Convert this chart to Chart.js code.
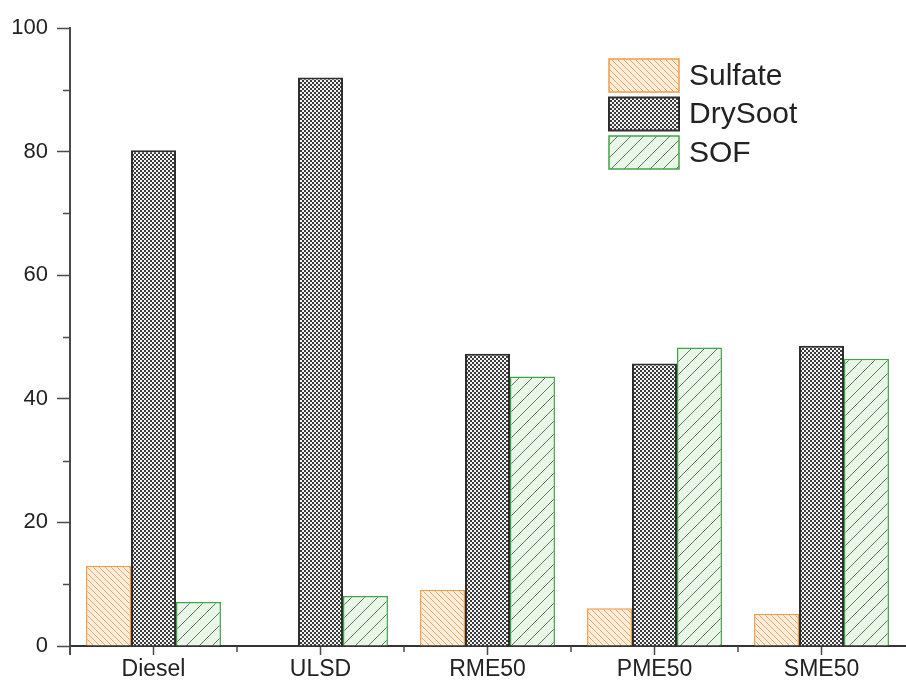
<!DOCTYPE html>
<html>
<head>
<meta charset="utf-8">
<script src="https://cdn.jsdelivr.net/npm/chart.js@4/dist/chart.umd.min.js"></script>
<style>
  html, body { margin: 0; padding: 0; background: #ffffff; }
  #wrap { width: 906px; height: 689px; position: relative; }
</style>
</head>
<body>
<div id="wrap"><canvas id="chart" width="906" height="689"></canvas></div>
<script>
// Particulate matter composition by fuel (%)
const categories = ['Diesel', 'ULSD', 'RME50', 'PME50', 'SME50'];
const seriesNames = ['Sulfate', 'DrySoot', 'SOF'];
const sulfate = [13.0, null, 9.1, 6.1, 5.2];
const drySoot = [80.2, 92.0, 47.3, 45.7, 48.6];
const sof = [7.1, 8.1, 43.6, 48.3, 46.5];
const yTicks = [0, 20, 40, 60, 80, 100];

const FONT = "'Liberation Sans', Arial, sans-serif";
const TEXT = '#222222';
const AXIS = '#4a4a4a';

// Fill patterns
function tile(w, h, paint) {
  const c = document.createElement('canvas');
  c.width = w; c.height = h;
  const g = c.getContext('2d');
  paint(g, w, h);
  return document.createElement('canvas').getContext('2d').createPattern(c, 'repeat');
}

const hatchBack = tile(6, 6, (g, w, h) => {
  g.fillStyle = '#fdeedd';
  g.fillRect(0, 0, w, h);
  g.strokeStyle = '#f3a45a';
  g.lineWidth = 1;
  g.beginPath();
  g.moveTo(-1, -1); g.lineTo(w + 1, h + 1);
  g.moveTo(-1, h - 1); g.lineTo(1, h + 1);
  g.moveTo(w - 1, -1); g.lineTo(w + 1, 1);
  g.stroke();
});

const checker = tile(4, 4, (g, w, h) => {
  g.fillStyle = '#3c3c3c';
  g.fillRect(0, 0, w, h);
  g.fillStyle = '#f4f4f4';
  g.fillRect(0, 0, 2, 2);
  g.fillRect(2, 2, 2, 2);
});

const hatchFwd = tile(13, 13, (g, w, h) => {
  g.fillStyle = '#eaf7e8';
  g.fillRect(0, 0, w, h);
  g.strokeStyle = '#55805a';
  g.lineWidth = 1;
  g.beginPath();
  g.moveTo(-1, h + 1); g.lineTo(w + 1, -1);
  g.stroke();
});

// Minor ticks, axis stub and the legend block
const decor = {
  id: 'decor',
  afterDraw(chart) {
    const ctx = chart.ctx;
    const x = chart.scales.x, y = chart.scales.y;
    const area = chart.chartArea;
    ctx.save();
    ctx.strokeStyle = AXIS;
    ctx.lineWidth = 1.5;
    // y minor ticks
    for (let v = 10; v < 100; v += 20) {
      const py = Math.round(y.getPixelForValue(v)) + 0.5;
      ctx.beginPath();
      ctx.moveTo(area.left - 7, py);
      ctx.lineTo(area.left, py);
      ctx.stroke();
    }
    // x minor ticks between categories
    for (let i = 0; i < categories.length - 1; i++) {
      const px = (x.getPixelForValue(i) + x.getPixelForValue(i + 1)) / 2;
      ctx.beginPath();
      ctx.moveTo(px, area.bottom);
      ctx.lineTo(px, area.bottom + 6);
      ctx.stroke();
    }
    // y axis runs slightly below the baseline
    ctx.lineWidth = 2;
    ctx.beginPath();
    ctx.moveTo(area.left, area.bottom);
    ctx.lineTo(area.left, area.bottom + 9);
    ctx.stroke();

    // legend
    const lx = 609, ly = 59, bw = 70, bh = 33, step = 38.5;
    ctx.font = '30px ' + FONT;
    ctx.textBaseline = 'middle';
    ctx.textAlign = 'left';
    chart.data.datasets.forEach((ds, i) => {
      const top = ly + i * step;
      ctx.fillStyle = ds.backgroundColor;
      ctx.fillRect(lx, top, bw, bh);
      ctx.strokeStyle = ds.borderColor;
      ctx.lineWidth = ds.borderWidth;
      ctx.strokeRect(lx, top, bw, bh);
      ctx.fillStyle = TEXT;
      ctx.fillText(ds.label, lx + bw + 10, top + bh / 2 + 1);
    });
    ctx.restore();
  }
};

new Chart(document.getElementById('chart'), {
  type: 'bar',
  data: {
    labels: categories,
    datasets: [
      { label: seriesNames[0], data: sulfate, backgroundColor: hatchBack, borderColor: '#f29c48', borderWidth: 1.5 },
      { label: seriesNames[1], data: drySoot, backgroundColor: checker, borderColor: '#2e2e2e', borderWidth: 2 },
      { label: seriesNames[2], data: sof, backgroundColor: hatchFwd, borderColor: '#3fa447', borderWidth: 1.5 }
    ]
  },
  options: {
    responsive: false,
    animation: false,
    devicePixelRatio: 1,
    layout: { padding: { top: 28, right: 1, left: 0, bottom: 0 } },
    datasets: { bar: { categoryPercentage: 0.808, barPercentage: 1.0 } },
    plugins: { legend: { display: false }, tooltip: { enabled: false } },
    scales: {
      x: {
        offset: true,
        grid: { offset: false, drawOnChartArea: false, drawTicks: true, tickLength: 9, tickColor: AXIS, tickWidth: 1.5 },
        border: { display: true, color: '#333333', width: 2 },
        ticks: { color: TEXT, font: { family: FONT, size: 23 }, padding: 1, maxRotation: 0 },
        afterFit(s) { s.height = 43; }
      },
      y: {
        min: 0,
        max: 100,
        afterBuildTicks(s) { s.ticks = yTicks.map(v => ({ value: v })); },
        grid: { drawOnChartArea: false, drawTicks: true, tickLength: 13, tickColor: AXIS, tickWidth: 1.5 },
        border: { display: true, color: AXIS, width: 2 },
        ticks: { color: TEXT, font: { family: FONT, size: 22 }, padding: 9 },
        afterFit(s) { s.width = 70; }
      }
    }
  },
  plugins: [decor]
});
</script>
</body>
</html>
